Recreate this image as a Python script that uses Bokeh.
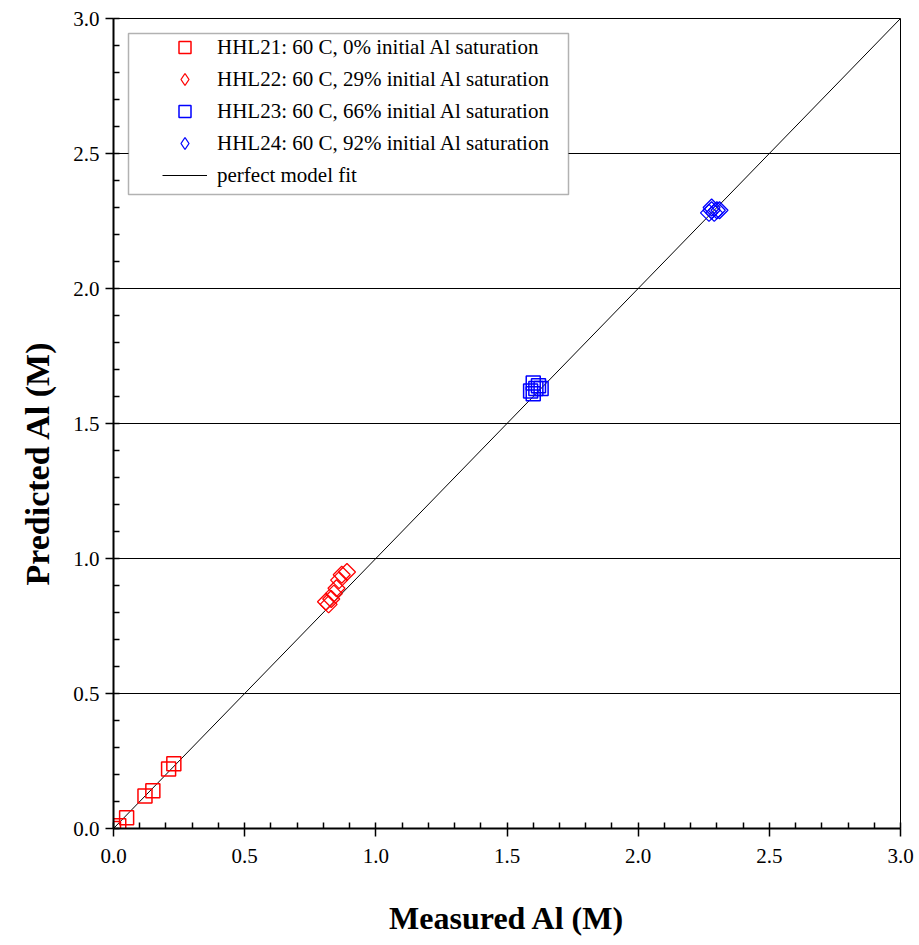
import numpy as np
from bokeh.plotting import figure
from bokeh.models import (Legend, LegendItem, SingleIntervalTicker,
                          PrintfTickFormatter, BoxAnnotation, Title)
from bokeh.embed import file_html
from bokeh.resources import INLINE

# Measured vs. predicted dissolved Al (M), four 60 C runs
hhl21_measured = [0.00, 0.02, 0.05, 0.12, 0.15, 0.21, 0.23]
hhl21_predicted = [0.00, 0.01, 0.04, 0.12, 0.14, 0.22, 0.24]

hhl22_measured = [0.81, 0.82, 0.83, 0.84, 0.85, 0.86, 0.87, 0.89]
hhl22_predicted = [0.84, 0.83, 0.85, 0.87, 0.89, 0.92, 0.94, 0.95]

hhl23_measured = [1.59, 1.60, 1.60, 1.61, 1.62, 1.63]
hhl23_predicted = [1.62, 1.65, 1.61, 1.63, 1.64, 1.63]

hhl24_measured = [2.27, 2.28, 2.29, 2.30, 2.31, 2.28]
hhl24_predicted = [2.28, 2.29, 2.28, 2.29, 2.29, 2.30]

fit_x = [0.0, 3.0]
fit_y = [0.0, 3.0]

labels = [
    "HHL21: 60 C, 0% initial Al saturation",
    "HHL22: 60 C, 29% initial Al saturation",
    "HHL23: 60 C, 66% initial Al saturation",
    "HHL24: 60 C, 92% initial Al saturation",
    "perfect model fit",
]

RED = "#ff0000"
BLUE = "#0000ff"
SERIF = "Liberation Serif"

p = figure(width=919, height=945, x_range=(0, 3), y_range=(0, 3),
           output_backend="svg", toolbar_location=None,
           min_border_left=113, min_border_right=19,
           min_border_top=18, min_border_bottom=117)
p.background_fill_color = "white"
p.border_fill_color = "white"
p.outline_line_color = "black"
p.outline_line_width = 1

r_fit = p.line(fit_x, fit_y, line_color="black", line_width=1)
r21 = p.scatter(hhl21_measured, hhl21_predicted, marker="square", size=14,
                fill_color=None, line_color=RED, line_width=1.5)
r22 = p.scatter(hhl22_measured, hhl22_predicted, marker="square", size=12,
                angle=np.pi / 4, fill_color=None, line_color=RED, line_width=1.3)
r23 = p.scatter(hhl23_measured, hhl23_predicted, marker="square", size=14,
                fill_color=None, line_color=BLUE, line_width=1.5)
r24 = p.scatter(hhl24_measured, hhl24_predicted, marker="square", size=12,
                angle=np.pi / 4, fill_color=None, line_color=BLUE, line_width=1.3)

# legend swatches for the diamond series (the legend draws markers unrotated)
k22 = p.scatter([np.nan], [np.nan], marker="diamond", fill_color=None,
                line_color=RED, line_width=1.3)
k24 = p.scatter([np.nan], [np.nan], marker="diamond", fill_color=None,
                line_color=BLUE, line_width=1.3)

# axes
for ax in (p.xaxis[0], p.yaxis[0]):
    ax.ticker = SingleIntervalTicker(interval=0.5, num_minor_ticks=5)
    ax.formatter = PrintfTickFormatter(format="%.1f")
    ax.axis_line_width = 2
    ax.axis_line_color = "black"
    ax.major_tick_line_color = "black"
    ax.major_tick_line_width = 1.5
    ax.minor_tick_line_color = "black"
    ax.minor_tick_line_width = 1.5
    ax.major_tick_out = 8
    ax.major_tick_in = 0
    ax.minor_tick_in = 6
    ax.minor_tick_out = 0
    ax.major_label_text_font = SERIF
    ax.major_label_text_font_size = "21px"
    ax.major_label_text_color = "black"
    ax.axis_label_text_font = SERIF
    ax.axis_label_text_font_size = "32px"
    ax.axis_label_text_font_style = "bold"
    ax.axis_label_text_color = "black"

p.xaxis.axis_label = "Measured Al (M)"
p.xaxis.major_label_standoff = 12
p.xaxis.axis_label_standoff = 34
p.yaxis.major_label_standoff = 6

# vertical axis title, placed a little below the frame's middle
ytitle = Title(text="Predicted Al (M)", align="left", offset=243,
               standoff=30, text_font=SERIF, text_font_size="34px",
               text_font_style="bold", text_color="black")
p.add_layout(ytitle, "left")

p.xgrid.visible = False
p.ygrid.ticker = SingleIntervalTicker(interval=0.5)
p.ygrid.grid_line_color = "black"
p.ygrid.grid_line_width = 1

# legend frame
frame = BoxAnnotation(left=128, right=568, top=33, bottom=194,
                      left_units="canvas", right_units="canvas",
                      top_units="canvas", bottom_units="canvas",
                      fill_color="white", fill_alpha=1.0,
                      line_color="black", line_width=1.5)
p.add_layout(frame)

legend = Legend(items=[
    LegendItem(label=labels[0], renderers=[r21]),
    LegendItem(label=labels[1], renderers=[k22]),
    LegendItem(label=labels[2], renderers=[r23]),
    LegendItem(label=labels[3], renderers=[k24]),
    LegendItem(label=labels[4], renderers=[r_fit]),
], location=(49, 638))
legend.border_line_color = None
legend.background_fill_alpha = 0
legend.padding = 0
legend.spacing = 2
legend.label_height = 30
legend.glyph_height = 30
legend.glyph_width = 45
legend.label_standoff = 10
legend.label_text_font = SERIF
legend.label_text_font_size = "21px"
legend.label_text_color = "black"
p.add_layout(legend, "center")

open("out.html", "w").write(file_html(p, INLINE))
